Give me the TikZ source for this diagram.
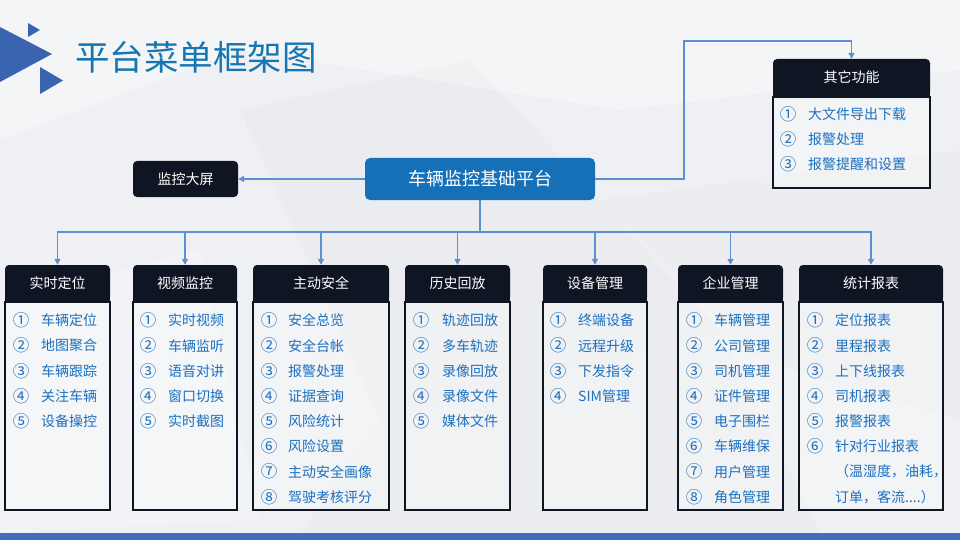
\documentclass[tikz,border=0pt]{standalone}
\usepackage{fontspec}
\setmainfont{Noto Sans CJK SC}
\usetikzlibrary{arrows.meta}
\definecolor{dark}{HTML}{0F1523}
\definecolor{mainblue}{HTML}{1670B8}
\definecolor{connblue}{HTML}{5F8FD3}
\definecolor{itemblue}{HTML}{1B70C0}
\definecolor{titleblue}{HTML}{1576B2}
\definecolor{triblue}{HTML}{3A64B0}
\definecolor{barblue}{HTML}{426DB8}
\definecolor{bgbase}{HTML}{EEF0F3}
\tikzset{
  hdr/.style={fill=dark, rounded corners=4pt, minimum height=36pt, inner sep=0pt, text=white, font=\fontsize{14}{16}\selectfont},
  bodybox/.style={fill=white, fill opacity=0.3, draw=dark, draw opacity=1, line width=2pt, inner sep=0pt, anchor=north},
  item/.style={anchor=west, inner sep=0pt, text=itemblue, font=\fontsize{14}{16}\selectfont},
  num/.style={inner sep=0pt, text=itemblue, font=\fontsize{16.5}{18}\selectfont},
  conn/.style={draw=connblue, line width=1.3pt},
  tip/.style={-{Triangle[width=6pt,length=6pt]}},
}
\newcommand\ItemList[4]{%
  \foreach \n/\t [count=\k] in {#4} {
    \node[num] (#1n\k) at (#2,{320.5+25.2*(\k-1)}) {\n};
    \node[item] (#1t\k) at (#3,{320.5+25.2*(\k-1)}) {\t};
  }}
\newcommand\SquareBottom[1]{\fill[dark] ([yshift=6pt]#1.south west) rectangle (#1.south east);}
\begin{document}
\begin{tikzpicture}[x=1pt,y=-1pt]
\useasboundingbox (0,0) rectangle (960,540);
% background
\fill[bgbase] (0,0) rectangle (960,540);
\fill[white,opacity=0.35] (0,0) -- (960,0) -- (960,70) -- (620,110) -- (240,50) -- (0,140) -- cycle;
\fill[black,opacity=0.015] (240,110) -- (470,60) -- (720,330) -- (380,420) -- cycle;
\fill[black,opacity=0.012] (600,200) -- (960,150) -- (960,420) -- (760,360) -- cycle;
\fill[white,opacity=0.25] (0,300) -- (200,250) -- (260,520) -- (0,533) -- cycle;
\fill[black,opacity=0.012] (380,420) -- (720,330) -- (820,533) -- (300,533) -- cycle;
\fill[barblue] (0,533) rectangle (960,540);
% title decoration
\fill[triblue] (0,27) -- (52,54) -- (0,82) -- cycle;
\fill[triblue] (28,23) -- (40,30) -- (28,37) -- cycle;
\fill[triblue] (40,67) -- (63,80.5) -- (40,94) -- cycle;
\node[anchor=west, inner sep=0pt, text=titleblue, font=\fontsize{34.5}{40}\selectfont] (title) at (75,57) {平台菜单框架图};
% main
\node[fill=mainblue, rounded corners=5pt, minimum width=230pt, minimum height=42pt, inner sep=0pt, text=white, font=\fontsize{18}{20}\selectfont] (m) at (480,179) {车辆监控基础平台};
\node[fill=dark, rounded corners=4pt, minimum width=105pt, minimum height=36pt, inner sep=0pt, text=white, font=\fontsize{14}{16}\selectfont] (s) at (185.5,179) {监控大屏};
% other functions
\node[hdr, minimum width=157pt, minimum height=37pt] (o) at (851.5,77.5) {其它功能};
\SquareBottom{o}
\node[bodybox, minimum width=157pt, minimum height=91pt] (ob) at (o.south) {};
\foreach \n/\t/\y [count=\k] in {①/大文件导出下载/114.5, ②/报警处理/139.5, ③/报警提醒和设置/164.5} {
  \node[num] (on\k) at (788,\y) {\n};
  \node[item] (ot\k) at (808,\y) {\t};
}
% columns
\node[hdr, minimum width=105pt] (h1) at (57.5,283) {实时定位};
\node[hdr, minimum width=104pt] (h2) at (185,283) {视频监控};
\node[hdr, minimum width=136pt] (h3) at (321,283) {主动安全};
\node[hdr, minimum width=105pt] (h4) at (457.5,283) {历史回放};
\node[hdr, minimum width=104pt] (h5) at (595,283) {设备管理};
\node[hdr, minimum width=105pt] (h6) at (730.5,283) {企业管理};
\node[hdr, minimum width=144pt] (h7) at (871,283) {统计报表};
\foreach \i in {1,...,7} {\SquareBottom{h\i}}
\node[bodybox, minimum width=105pt, minimum height=208pt] (b1) at (h1.south) {};
\node[bodybox, minimum width=104pt, minimum height=208pt] (b2) at (h2.south) {};
\node[bodybox, minimum width=136pt, minimum height=208pt] (b3) at (h3.south) {};
\node[bodybox, minimum width=105pt, minimum height=208pt] (b4) at (h4.south) {};
\node[bodybox, minimum width=104pt, minimum height=208pt] (b5) at (h5.south) {};
\node[bodybox, minimum width=105pt, minimum height=208pt] (b6) at (h6.south) {};
\node[bodybox, minimum width=144pt, minimum height=208pt] (b7) at (h7.south) {};
\ItemList{a}{21}{41}{①/车辆定位,②/地图聚合,③/车辆跟踪,④/关注车辆,⑤/设备操控}
\ItemList{b}{148}{168}{①/实时视频,②/车辆监听,③/语音对讲,④/窗口切换,⑤/实时截图}
\ItemList{c}{269}{288}{①/安全总览,②/安全台帐,③/报警处理,④/证据查询,⑤/风险统计,⑥/风险设置,⑦/主动安全画像,⑧/驾驶考核评分}
\ItemList{d}{421}{442}{①/轨迹回放,②/多车轨迹,③/录像回放,④/录像文件,⑤/媒体文件}
\ItemList{e}{558}{578}{①/终端设备,②/远程升级,③/下发指令,④/SIM管理}
\ItemList{f}{694}{714}{①/车辆管理,②/公司管理,③/司机管理,④/证件管理,⑤/电子围栏,⑥/车辆维保,⑦/用户管理,⑧/角色管理}
\ItemList{g}{815}{835}{①/定位报表,②/里程报表,③/上下线报表,④/司机报表,⑤/报警报表,⑥/针对行业报表}
\node[item] (g7) at (835,{320.5+25.2*6}) {（温湿度，油耗，};
\node[item] (g8) at (835,{320.5+25.2*7}) {订单，客流....）};
% connectors
\draw[conn,tip] (m.west) -- (s.east);
\coordinate (up) at (684,41);
\draw[conn,tip] (m.east) -| (up) -| (o.north);
\coordinate (bus) at (480,232);
\draw[conn] (m.south) -- (bus);
\foreach \i in {1,...,5} {\draw[conn,tip] (bus) -| (h\i.north);}
\foreach \i in {6,7} {\draw[conn,line width=1.8pt,tip] (bus) -| (h\i.north);}
\end{tikzpicture}
\end{document}
